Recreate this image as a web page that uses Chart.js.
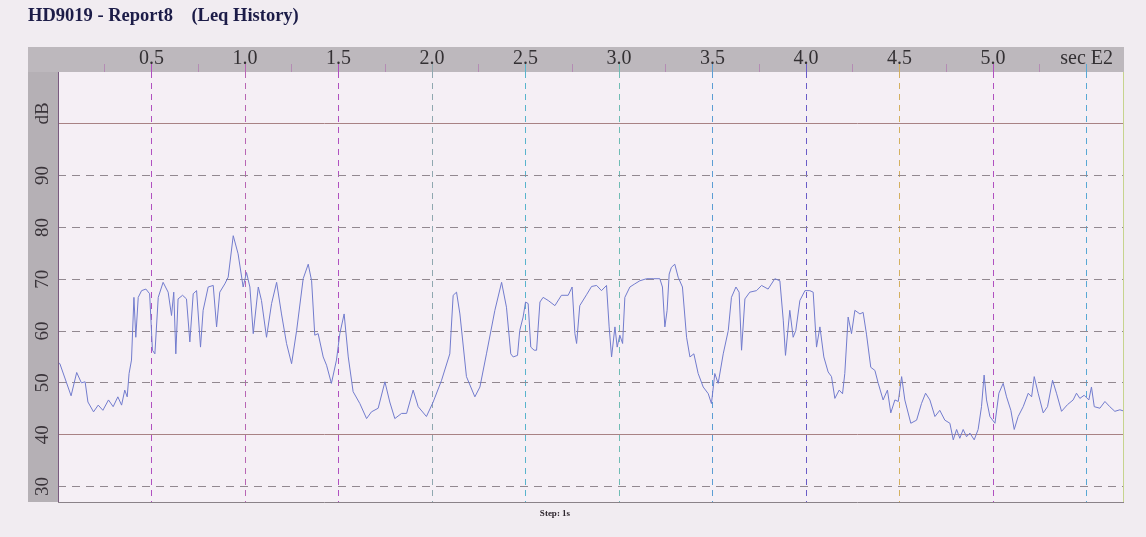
<!DOCTYPE html>
<html>
<head>
<meta charset="utf-8">
<script src="https://cdn.jsdelivr.net/npm/chart.js@4.4.1/dist/chart.umd.min.js"></script>
<style>
  html, body { margin: 0; padding: 0; background: #f1ecf1; }
  #wrap { width: 1146px; height: 537px; }
</style>
</head>
<body>
<div id="wrap"><canvas id="chart"></canvas></div>
<script>
// Leq history, time in seconds (axis shows sec E2), level in dB
const seconds = [
  0, 1, 7, 10, 12.5, 14.5, 16, 19, 21.5, 24, 27, 29.5, 32, 34, 35.7, 37, 38, 39.3, 40.6, 41.6,
  42.9, 44.7, 47, 49, 50.5, 51.8, 53.6, 56.2, 58.9, 60.7, 61.9, 63, 64.2, 66.6, 68.7, 70.5, 72.3, 74.1,
  76.2, 77.6, 80.3, 83, 84.8, 86.5, 89.2, 91, 93.7, 96.3, 99, 100.8, 102.6, 104.4, 107.1, 108.8, 111.5,
  114.2, 116.9, 119.5, 122.2, 124.9, 127.6, 131.1, 133.8, 135.6, 137.3, 139.1, 141.8, 143.6, 146.2, 148.9,
  150.7, 153, 155.2, 157.8, 161.4, 165, 167.6, 171.2, 174.8, 177.4, 180.1, 183.7, 186.4, 189.9, 192.6,
  197, 200.6, 205.1, 209.5, 211.3, 213.1, 214.9, 218.4, 222.9, 225.6, 229.1, 233.6, 237.2, 239.8, 242.1,
  243.4, 245.7, 246.9, 248.7, 250, 251.4, 252.8, 254.6, 255.9, 257.7, 259.4, 262.1, 265.7, 269.2, 272.8,
  274.9, 276.4, 277.3, 279, 282.6, 285.3, 288, 290.6, 293.3, 294.7, 296, 297.8, 299, 300.4, 301.9, 303.1,
  305.8, 308.4, 311.1, 314.7, 318.3, 321.8, 323.2, 324.5, 325.7, 326.8, 328, 329.8, 331.6, 333.9, 336.1,
  337.9, 340, 342.3, 345, 347.7, 349.4, 351.2, 353, 355.7, 358.4, 360.1, 362.5, 364.2, 365.5, 367.3,
  369.9, 373.5, 376.2, 379.7, 383.3, 386, 387.8, 389, 391.3, 393.1, 394.5, 396.7, 399.4, 402, 403.8,
  405.6, 407.4, 409.5, 411.8, 413.6, 415.4, 417.7, 419.5, 420.7, 422.5, 424.3, 426.1, 428.8, 430.5, 432.3,
  434.6, 436.8, 438.6, 441.2, 443.5, 445.3, 447.5, 449.3, 451.1, 452.8, 456, 459.1, 461.7, 463.9, 466.2,
  468.9, 471.5, 474.2, 476.9, 478.7, 480.5, 482.2, 484, 485.8, 487.6, 489.9, 492, 493.8, 495.2, 496.5,
  498.3, 501, 503.1, 505.4, 507.2, 509.5, 511.3, 513.4, 516.1, 518.8, 520.6, 522, 524.1, 526.8, 529.1,
  531.8, 533.9, 536.6, 539.8, 542.8, 544.6, 546.4, 548.7, 551.2, 552.6, 554.1, 557.1, 559.8, 562.4, 565.1,
  567.8, 569.5
];
const levels = [
  54, 53.7, 47.5, 52, 50, 50.2, 46.3, 44.4, 45.7, 44.7, 46.7, 45.4, 47.3, 45.7, 48.6, 47.3, 51.8, 54.4, 66.5, 58.8,
  66.5, 67.8, 68.1, 67.2, 56.3, 55.6, 66.5, 69.4, 67.5, 63, 67.5, 55.6, 66.2, 66.9, 66.2, 57.9, 67.2, 67.8,
  56.9, 64, 68.5, 68.8, 60.8, 67.5, 69.1, 70.4, 78.4, 74.9, 68.5, 71.3, 68.5, 59.5, 68.5, 65.9, 58.8,
  65.3, 69.4, 63.3, 57.6, 53.7, 60.1, 70.1, 72.9, 69.7, 59.2, 59.5, 55, 53.4, 49.9, 54.4,
  59.5, 63.3, 55, 48.3, 46, 43.1, 44.4, 45.1, 50.2, 46.3, 43.1, 44.1, 44.1, 48.6, 45.4,
  43.5, 46.3, 50.5, 55.6, 66.9, 67.5, 63.3, 51.2, 47.3, 49.2, 55.6, 64, 69.4, 64.6, 55.6,
  55, 55.3, 60.1, 62.7, 65.6, 65.3, 56.9, 56.3, 56.3, 65.6, 66.5, 65.9, 64.9, 66.9, 66.9,
  68.5, 59.5, 57.6, 64.9, 67, 68.6, 68.8, 67.8, 68.8, 60.8, 55, 60.8, 56.9, 59.2, 57.6, 66.5,
  68.5, 69.1, 69.7, 70.1, 70.1, 70.1, 68.5, 60.8, 64, 71, 72.3, 72.9, 70.4, 68.5, 58.8,
  55, 55.6, 51.8, 49.2, 47.9, 46, 51.8, 49.9, 55.6, 60.1, 66.5, 68.5, 67.5, 56.3, 66.2,
  67.5, 67.8, 68.8, 68.1, 70.1, 69.7, 62.1, 55.3, 64, 58.8, 60.1, 65.9, 67.8, 67.8, 67.5,
  56.9, 60.8, 55, 52.1, 51.2, 47, 48.6, 47.9, 51.8, 62.7, 59.5, 64, 63.3, 63.6, 59.4,
  53, 52.4, 49.9, 46.7, 48.6, 44.2, 46.7, 46.4, 51.2, 46.7, 42.2, 42.8, 46, 48, 46.7,
  43.5, 44.7, 42.8, 42.2, 39, 41, 39.3, 41, 39.6, 40.3, 39, 41, 45.4, 51.5, 46.7,
  43.5, 42.2, 48, 49.9, 47.3, 44.7, 41, 43.5, 45.4, 48, 47.3, 51.2, 48, 44.2, 45.4,
  50.5, 48, 44.5, 45.8, 46.7, 48, 47, 47.6, 46.7, 49.2, 45.4, 45.1, 46.4, 45.4, 44.5,
  44.8, 44.6
];
const dbTicks = [30, 40, 50, 60, 70, 80, 90, 100];
const timeTicks = [0, 25, 50, 75, 100, 125, 150, 175, 200, 225, 250, 275, 300, 325, 350, 375, 400, 425, 450, 475, 500, 525, 550];

const vlineColours = {
  50: '#b050c0', 100: '#b866b4', 150: '#b050c0', 200: '#90a8b0', 250: '#58b4cc', 300: '#70bcb4',
  350: '#5c9ed4', 400: '#6a5cc8', 450: '#d4b060', 500: '#b050c0', 550: '#58a8d4'
};

const frame = {
  id: 'frame',
  beforeDraw(chart) {
    const { ctx, chartArea: a, scales: { x, y } } = chart;
    ctx.save();
    ctx.fillStyle = '#f1ecf1';
    ctx.fillRect(0, 0, chart.width, chart.height);
    ctx.fillStyle = '#f5eff5';
    ctx.fillRect(a.left, a.top, a.right - a.left, a.bottom - a.top);
    ctx.fillStyle = '#bdb8bd';
    ctx.fillRect(y.left, x.top, a.right - y.left, x.bottom - x.top);
    ctx.fillStyle = '#b5b0b5';
    ctx.fillRect(y.left, x.bottom, y.right - y.left, a.bottom - x.bottom);
    ctx.restore();
  },
  afterDraw(chart) {
    const { ctx, chartArea: a } = chart;
    ctx.save();
    ctx.lineWidth = 1;
    ctx.strokeStyle = '#7a5a80';
    ctx.beginPath(); ctx.moveTo(a.left + 0.5, a.top); ctx.lineTo(a.left + 0.5, a.bottom); ctx.stroke();
    ctx.strokeStyle = '#8a8288';
    ctx.beginPath(); ctx.moveTo(a.left, a.bottom + 0.5); ctx.lineTo(a.right, a.bottom + 0.5); ctx.stroke();
    ctx.strokeStyle = '#c6d48e';
    ctx.beginPath(); ctx.moveTo(a.right - 0.5, a.top); ctx.lineTo(a.right - 0.5, a.bottom); ctx.stroke();
    ctx.fillStyle = '#2e262e';
    ctx.font = 'bold 9px "Liberation Serif"';
    ctx.textAlign = 'center';
    ctx.textBaseline = 'middle';
    ctx.fillText('Step: 1s', 555, 514);
    ctx.restore();
  }
};

const ctx = document.getElementById('chart').getContext('2d');

new Chart(ctx, {
  type: 'line',
  data: {
    datasets: [{
      data: seconds.map((t, i) => ({ x: t, y: levels[i] })),
      borderColor: 'rgb(114,124,206)',
      borderWidth: 1,
      pointRadius: 0,
      tension: 0,
      fill: false
    }]
  },
  options: {
    responsive: true,
    maintainAspectRatio: false,
    animation: false,
    layout: { padding: { left: 28, right: 22, top: 0, bottom: 35 } },
    plugins: {
      legend: { display: false },
      tooltip: { enabled: false },
      title: {
        display: true,
        text: 'HD9019 - Report8    (Leq History)',
        align: 'start',
        color: '#1c1c48',
        font: { family: '"Liberation Serif"', size: 18.5, weight: 'bold' },
        padding: { top: 5, bottom: 19.8 }
      }
    },
    scales: {
      x: {
        type: 'linear',
        position: 'top',
        min: 0,
        max: 570,
        afterBuildTicks: s => { s.ticks = timeTicks.map(v => ({ value: v })); },
        afterFit: s => { s.height = 25; },
        ticks: {
          autoSkip: false,
          minRotation: 0,
          maxRotation: 0,
          padding: -7,
          color: '#333033',
          font: { family: '"Liberation Serif"', size: 20 },
          callback: v => (v % 50 === 0 && v > 0) ? (v === 550 ? 'sec E2' : (v / 100).toFixed(1)) : ''
        },
        grid: {
          color: c => (c.tick && vlineColours[c.tick.value]) || 'transparent',
          tickColor: c => c.tick && c.tick.value > 0 ? (vlineColours[c.tick.value] || '#b48cb4') : 'transparent',
          tickLength: 8,
          lineWidth: 1
        },
        border: { display: false, dash: [6, 5] }
      },
      y: {
        min: 27,
        max: 110,
        afterBuildTicks: s => { s.ticks = dbTicks.concat([102]).map(v => ({ value: v })); },
        afterFit: s => { s.width = 30; },
        ticks: {
          autoSkip: false,
          minRotation: 90,
          maxRotation: 90,
          crossAlign: 'center',
          padding: 4,
          color: '#3a343a',
          font: { family: '"Liberation Serif"', size: 19 },
          callback: v => v === 102 ? 'dB' : (v === 100 ? '' : String(v))
        },
        grid: {
          drawTicks: false,
          color: c => {
            if (!c.tick) return 'transparent';
            const v = c.tick.value;
            if (v === 102) return 'transparent';
            return (v === 40 || v === 100) ? '#a88284' : '#928890';
          },
          lineWidth: 1
        },
        border: {
          display: false,
          dash: c => (c.tick && (c.tick.value === 40 || c.tick.value === 100)) ? [] : [8, 6]
        }
      }
    }
  },
  plugins: [frame]
});
</script>
</body>
</html>
